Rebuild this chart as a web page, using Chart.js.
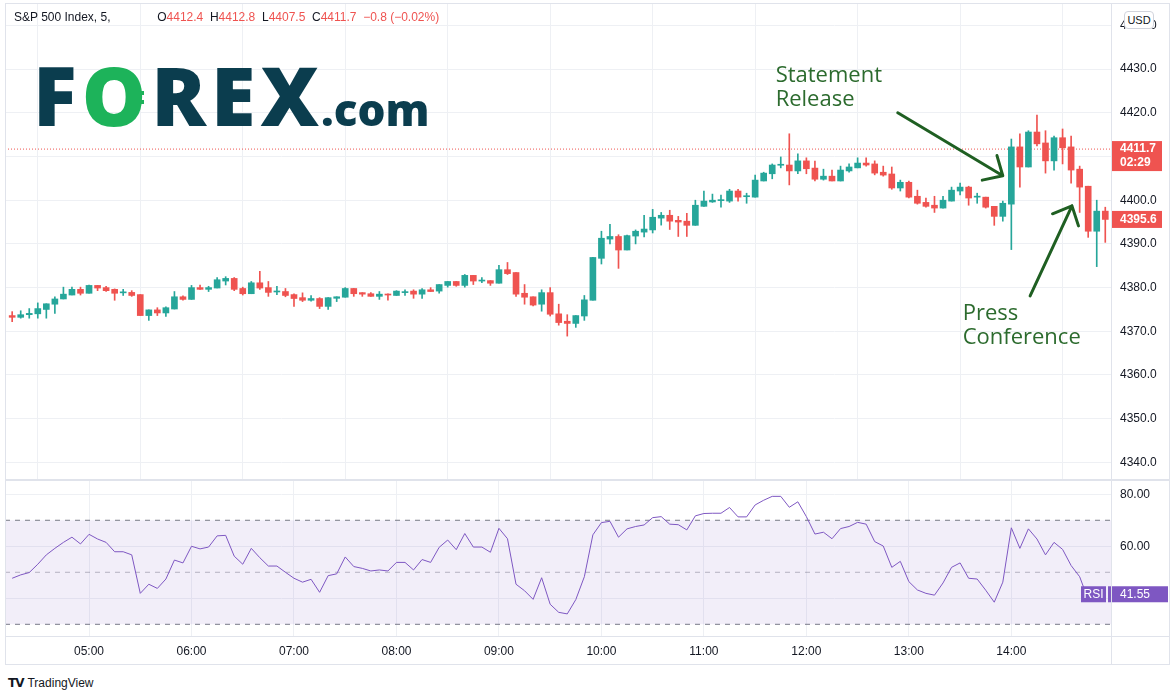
<!DOCTYPE html>
<html>
<head>
<meta charset="utf-8">
<script src="https://cdn.jsdelivr.net/npm/chart.js@4.4.1/dist/chart.umd.min.js"></script>
<style>
  body { margin: 0; background: #fff; }
  #wrap { position: relative; width: 1176px; height: 700px; overflow: hidden; font-family: "Liberation Sans", Arial, sans-serif; color: #131722; }
  canvas { position: absolute; left: 0; }
  .ln { position: absolute; background: #e0e3eb; }
  #hdr { position: absolute; left: 14px; top: 10px; font-size: 12px; white-space: pre; }
  #hdr .r { color: #ef5350; }
  #logo { position: absolute; left: 33px; top: 39px; font-family: "Open Sans", sans-serif; font-weight: 800; font-size: 81px; color: #0b3d4e; letter-spacing: 5px; white-space: nowrap; }
  #logo .g { color: #1db35a; position: relative; }
  #logo .x { letter-spacing: 2px; }
  #logo .bar { position: absolute; height: 4px; width: 12px; background: #1db35a; }
  #logo .com { font-size: 44px; font-weight: 800; letter-spacing: 0; }
  #usd { position: absolute; left: 1124px; top: 11px; width: 28px; height: 16px; border: 1px solid #d1d4dc; border-radius: 4px; background: #fff; font-size: 11px; line-height: 16px; text-align: center; }
  #tv { position: absolute; left: 8px; top: 676px; font-size: 12px; white-space: nowrap; }
  #tv b { font-family: "DejaVu Sans", sans-serif; font-weight: 900; font-size: 12px; letter-spacing: -1px; margin-right: 4px; }
</style>
</head>
<body>
<div id="wrap">
  <canvas id="price" width="1176" height="480" style="top:0"></canvas>
  <canvas id="rsi" width="1176" height="186" style="top:480px"></canvas>

  <div class="ln" style="left:5px;top:3px;width:1165px;height:1px"></div>
  <div class="ln" style="left:5px;top:3px;width:1px;height:662px"></div>
  <div class="ln" style="left:1169px;top:3px;width:1px;height:662px"></div>
  <div class="ln" style="left:1111px;top:3px;width:1px;height:662px"></div>
  <div class="ln" style="left:5px;top:479px;width:1165px;height:2px"></div>
  <div class="ln" style="left:5px;top:636px;width:1165px;height:1px"></div>
  <div class="ln" style="left:5px;top:664px;width:1165px;height:1px"></div>

  <div id="hdr">S&amp;P 500 Index, 5,              O<span class="r">4412.4</span>  H<span class="r">4412.8</span>  L<span class="r">4407.5</span>  C<span class="r">4411.7</span>  <span class="r">−0.8 (−0.02%)</span></div>
  <div id="logo">F<span class="g">O<span class="bar" style="left:50px;top:52px"></span><span class="bar" style="left:50px;top:61px"></span></span>RE<span class="x">X</span><span class="com">.com</span></div>
  <div id="usd">USD</div>
  <div id="tv"><b>TV</b>TradingView</div>
</div>

<script>
// S&P 500 Index, 5 minute candles from 04:15
var startTime = '04:15';
var opens = [
  4373.6, 4373.2, 4373.8, 4374.0, 4375.0, 4376.2, 4377.4, 4378.3, 4379.6, 4378.7,
  4380.5, 4380.0, 4379.6, 4378.8, 4378.9, 4378.4, 4373.6, 4374.9, 4374.2, 4375.1,
  4377.9, 4377.3, 4380.0, 4379.6, 4379.9, 4381.5, 4382.1, 4379.8, 4378.6, 4381.1,
  4380.0, 4379.0, 4379.1, 4378.4, 4377.7, 4377.1, 4377.5, 4375.7, 4377.55, 4377.8,
  4379.8, 4378.85, 4378.6, 4378.0, 4378.4, 4378.2, 4378.85, 4379.2, 4378.5, 4379.5,
  4379.2, 4380.5, 4381.4, 4380.5, 4382.8, 4381.5, 4381.6, 4381.0, 4384.1, 4383.45,
  4378.7, 4377.9, 4376.2, 4378.85, 4374.0, 4372.3, 4371.8, 4373.5, 4377.1, 4386.7,
  4391.1, 4391.7, 4388.6, 4391.8, 4392.7, 4393.2, 4395.9, 4396.55, 4395.4, 4395.2,
  4394.25, 4398.6, 4399.6, 4399.9, 4399.8, 4402.1, 4400.8, 4400.7, 4404.4, 4406.05,
  4408.0, 4408.05, 4406.7, 4409.0, 4407.35, 4404.8, 4405.5, 4404.4, 4406.7, 4407.4,
  4408.5, 4408.3, 4406.4, 4406.0, 4402.8, 4404.1, 4400.9, 4399.5, 4398.85, 4398.2,
  4399.8, 4402.1, 4403.0, 4400.7, 4400.7, 4398.6, 4396.3, 4399.1, 4412.2, 4407.6,
  4415.6, 4413.1, 4409.0, 4414.3, 4412.2, 4407.1, 4403.2, 4392.9, 4397.5
];
var highs = [
  4374.5, 4374.7, 4375.2, 4376.5, 4376.3, 4377.9, 4380.1, 4380.1, 4380.1, 4380.6,
  4380.5, 4380.3, 4379.7, 4379.6, 4379.3, 4378.4, 4374.9, 4375.4, 4375.6, 4379.1,
  4378.1, 4380.5, 4380.6, 4380.3, 4382.3, 4382.5, 4382.3, 4380.1, 4381.4, 4383.7,
  4381.4, 4380.3, 4379.8, 4378.6, 4378.8, 4378.2, 4377.7, 4377.7, 4377.9, 4380.0,
  4379.8, 4378.85, 4378.85, 4379.1, 4378.6, 4379.3, 4379.5, 4379.5, 4379.8, 4380.0,
  4380.7, 4381.4, 4381.4, 4383.0, 4382.8, 4382.3, 4381.6, 4385.1, 4385.75, 4383.45,
  4380.7, 4377.9, 4379.5, 4380.0, 4376.2, 4373.8, 4373.6, 4378.2, 4386.9, 4392.9,
  4394.5, 4392.1, 4392.0, 4393.2, 4396.55, 4397.9, 4397.2, 4397.7, 4396.3, 4397.0,
  4400.0, 4402.1, 4401.4, 4401.2, 4402.5, 4402.5, 4401.6, 4405.75, 4406.4, 4408.3,
  4409.9, 4415.2, 4410.6, 4409.7, 4408.96, 4407.1, 4406.9, 4407.8, 4408.3, 4409.7,
  4409.7, 4409.0, 4407.8, 4407.6, 4404.6, 4404.4, 4402.3, 4400.5, 4400.9, 4400.9,
  4403.0, 4403.9, 4403.2, 4401.6, 4400.7, 4398.6, 4399.8, 4414.0, 4415.2, 4415.9,
  4419.5, 4415.9, 4414.7, 4416.3, 4414.7, 4407.8, 4403.2, 4400.0, 4398.4
];
var lows = [
  4372.2, 4373.0, 4373.0, 4373.0, 4373.0, 4374.1, 4377.4, 4378.3, 4378.3, 4378.7,
  4379.3, 4379.1, 4377.1, 4378.2, 4378.0, 4373.6, 4372.5, 4373.6, 4373.4, 4375.1,
  4377.1, 4377.3, 4379.6, 4379.1, 4379.9, 4380.6, 4379.3, 4378.3, 4378.6, 4379.6,
  4378.0, 4378.4, 4377.9, 4375.7, 4376.8, 4376.9, 4375.2, 4375.0, 4376.8, 4377.8,
  4378.0, 4378.0, 4378.0, 4377.3, 4377.1, 4378.2, 4378.2, 4377.55, 4377.55, 4379.1,
  4378.7, 4380.1, 4380.3, 4380.1, 4380.7, 4381.1, 4380.5, 4381.0, 4383.0, 4378.0,
  4376.2, 4375.8, 4374.6, 4373.5, 4371.4, 4368.9, 4370.9, 4372.5, 4377.1, 4385.4,
  4390.0, 4384.4, 4388.6, 4390.0, 4391.6, 4392.5, 4394.3, 4393.3, 4391.7, 4391.7,
  4394.25, 4398.6, 4399.5, 4398.4, 4399.5, 4399.8, 4399.3, 4400.7, 4404.4, 4404.9,
  4407.4, 4403.5, 4406.05, 4406.05, 4404.4, 4404.6, 4404.4, 4404.4, 4406.4, 4407.4,
  4407.8, 4405.8, 4405.5, 4402.5, 4402.1, 4400.5, 4399.1, 4398.4, 4397.2, 4398.2,
  4399.8, 4401.2, 4398.85, 4399.3, 4398.2, 4394.25, 4395.2, 4388.7, 4403.0, 4407.6,
  4412.4, 4406.2, 4406.9, 4408.3, 4403.9, 4397.2, 4391.5, 4384.8, 4390.35
];
var closes = [
  4373.2, 4373.8, 4374.1, 4375.2, 4376.3, 4377.4, 4378.5, 4379.6, 4378.7, 4380.5,
  4379.9, 4379.3, 4378.7, 4378.85, 4378.2, 4373.6, 4374.9, 4374.2, 4375.4, 4377.9,
  4377.3, 4380.0, 4379.6, 4380.0, 4381.8, 4382.1, 4379.6, 4378.6, 4381.1, 4379.9,
  4378.9, 4379.1, 4378.2, 4377.5, 4377.1, 4377.5, 4375.7, 4377.7, 4377.9, 4379.8,
  4378.6, 4378.5, 4378.0, 4378.5, 4378.3, 4379.2, 4378.9, 4378.5, 4379.5, 4379.1,
  4380.7, 4381.4, 4380.5, 4382.8, 4381.5, 4381.55, 4381.0, 4384.1, 4383.2, 4378.5,
  4377.8, 4376.0, 4378.85, 4373.9, 4372.0, 4371.8, 4373.6, 4377.2, 4386.9, 4391.3,
  4391.7, 4388.6, 4391.9, 4392.9, 4393.4, 4396.1, 4396.55, 4395.2, 4395.0, 4394.25,
  4398.85, 4399.8, 4400.0, 4400.0, 4402.1, 4400.7, 4400.9, 4404.6, 4406.2, 4408.05,
  4408.1, 4406.7, 4409.0, 4407.2, 4404.8, 4405.5, 4404.4, 4406.9, 4407.6, 4408.5,
  4408.05, 4406.2, 4405.75, 4402.8, 4404.1, 4400.7, 4399.3, 4398.6, 4398.2, 4400.0,
  4402.3, 4403.0, 4400.5, 4400.8, 4398.4, 4396.3, 4399.3, 4412.2, 4407.6, 4415.6,
  4412.9, 4409.0, 4414.3, 4412.0, 4406.9, 4403.0, 4392.9, 4397.5, 4395.6
];
var rsiValues = [
  47.7, 49.0, 49.9, 53.1, 56.7, 59.2, 61.5, 63.5, 60.9, 64.6,
  62.8, 61.5, 57.9, 57.9, 56.7, 41.9, 45.4, 43.8, 47.4, 54.7,
  53.6, 60.0, 59.0, 59.7, 64.0, 64.2, 56.2, 53.1, 59.2, 55.6,
  52.4, 52.4, 50.0, 47.7, 46.2, 47.3, 42.3, 48.7, 49.4, 55.9,
  52.2, 51.5, 50.5, 50.9, 50.5, 53.8, 53.8, 50.9, 54.9, 53.8,
  59.6, 62.4, 58.7, 64.9, 59.7, 59.7, 57.7, 66.9, 62.9, 45.4,
  42.9, 39.6, 47.9, 37.7, 34.6, 34.0, 39.5, 48.3, 64.4, 69.1,
  69.6, 63.5, 66.7, 67.6, 68.2, 71.0, 71.4, 68.5, 68.3, 66.3,
  71.7, 72.6, 72.7, 72.7, 74.9, 71.3, 71.3, 75.9, 77.7, 79.2,
  79.2, 75.0, 77.1, 71.4, 64.7, 65.4, 62.9, 66.8, 67.6, 69.2,
  68.5, 61.8, 60.1, 51.9, 54.2, 46.4, 43.2, 41.9, 41.2, 45.9,
  51.9, 53.6, 47.7, 47.4, 43.1, 38.5, 46.2, 67.1, 59.2, 66.7,
  62.8, 56.7, 61.5, 58.8, 52.6, 48.3, 39.5, 44.0, 41.55
];
var rsiBands = [70, 50, 30];
var hourLabels = ['05:00', '06:00', '07:00', '08:00', '09:00', '10:00', '11:00', '12:00', '13:00', '14:00'];
var lastPrice = 4411.7;
var countdown = '02:29';
var priceTicks = [4340, 4350, 4360, 4370, 4380, 4390, 4400, 4410, 4420, 4430, 4440];
var rsiTicks = [40, 60, 80];

var notes = [
  { lines: ['Statement', 'Release'], x: 89.4, y: [4428.5, 4423.0] },
  { lines: ['Press', 'Conference'], x: 111.3, y: [4374.0, 4368.5] }
];
var arrows = [
  { from: [103.7, 4420.0], to: [116.0, 4405.6] },
  { from: [119.2, 4378.1], to: [124.1, 4398.7] }
];

var UP = '#26a69a', DOWN = '#ef5350', GRID = '#eef0f4', RSI_C = '#7e57c2';
var FONT = '"Liberation Sans", Arial, sans-serif';
var xMin = -0.84, xMax = 128.67;

function pad(n) { return (n < 10 ? '0' : '') + n; }
var t0 = parseInt(startTime.split(':')[0]) * 60 + parseInt(startTime.split(':')[1]);
var times = closes.map(function (c, i) {
  var m = t0 + 5 * i;
  return pad(Math.floor(m / 60)) + ':' + pad(m % 60);
});
var hourIdx = hourLabels.map(function (l) { return times.indexOf(l); });
var candleColors = closes.map(function (c, i) { return c >= opens[i] ? UP : DOWN; });

function noPad(s) { s.paddingTop = 0; s.paddingBottom = 0; s.paddingLeft = 0; s.paddingRight = 0; }

var xScaleBase = {
  type: 'linear', min: xMin, max: xMax, offset: false,
  grid: { color: GRID, drawTicks: false },
  border: { display: false },
  afterBuildTicks: function (s) { s.ticks = hourIdx.map(function (v) { return { value: v }; }); }
};

// price pane
var priceLabels = {
  id: 'priceLabels',
  afterDraw: function (chart) {
    var ctx = chart.ctx, y = chart.scales.y, xs = chart.scales.x;
    ctx.save();
    // right axis boxes
    var p1 = y.getPixelForValue(lastPrice);
    ctx.fillStyle = DOWN;
    ctx.fillRect(1111, p1 - 8, 51, 30);
    var p2 = y.getPixelForValue(closes[closes.length - 1]);
    ctx.fillRect(1111, p2 - 8.5, 51, 17);
    ctx.fillStyle = '#fff';
    ctx.font = 'bold 12px ' + FONT;
    ctx.textBaseline = 'middle';
    ctx.fillText(lastPrice.toFixed(1), 1120, p1);
    ctx.fillText(countdown, 1120, p1 + 14);
    ctx.fillText(closes[closes.length - 1].toFixed(1), 1120, p2);

    // annotations
    var ink = '#1f5f22';
    ctx.fillStyle = '#2c6b2e';
    ctx.font = '22px "Open Sans", sans-serif';
    ctx.textBaseline = 'middle';
    notes.forEach(function (n) {
      n.lines.forEach(function (t, k) {
        ctx.fillText(t, xs.getPixelForValue(n.x), y.getPixelForValue(n.y[k]));
      });
    });
    ctx.strokeStyle = ink;
    ctx.lineWidth = 3;
    ctx.lineCap = 'round';
    arrows.forEach(function (a) {
      var x1 = xs.getPixelForValue(a.from[0]), y1 = y.getPixelForValue(a.from[1]);
      var x2 = xs.getPixelForValue(a.to[0]), y2 = y.getPixelForValue(a.to[1]);
      var ang = Math.atan2(y2 - y1, x2 - x1);
      ctx.beginPath();
      ctx.moveTo(x1, y1);
      ctx.lineTo(x2, y2);
      [0.75, -0.75].forEach(function (d) {
        ctx.moveTo(x2, y2);
        ctx.lineTo(x2 + 21 * Math.cos(ang + Math.PI + d), y2 + 21 * Math.sin(ang + Math.PI + d));
      });
      ctx.stroke();
    });
    ctx.restore();
  }
};

new Chart(document.getElementById('price'), {
  type: 'bar',
  data: {
    datasets: [
      {
        label: 'body', order: 0, grouped: false,
        data: closes.map(function (c, i) { return { x: i, y: [Math.min(opens[i], c), Math.max(opens[i], c)] }; }),
        backgroundColor: candleColors, barThickness: 6, minBarLength: 1, borderWidth: 0
      },
      {
        label: 'wick', order: 1, grouped: false,
        data: closes.map(function (c, i) { return { x: i, y: [lows[i], highs[i]] }; }),
        backgroundColor: candleColors, barThickness: 1, borderWidth: 0
      },
      {
        type: 'line', label: 'last', order: 2,
        data: [{ x: xMin, y: lastPrice }, { x: xMax, y: lastPrice }],
        borderColor: DOWN, borderWidth: 1, borderDash: [1, 2], pointRadius: 0
      }
    ]
  },
  options: {
    responsive: false, animation: false, devicePixelRatio: 1,
    layout: { padding: { left: 5, top: 4, bottom: 1, right: 0 } },
    plugins: { legend: { display: false }, tooltip: { enabled: false } },
    scales: {
      x: Object.assign({}, xScaleBase, {
        ticks: { display: false },
        afterFit: function (s) { s.height = 0; noPad(s); }
      }),
      y: {
        position: 'right', min: 4336.2, max: 4444.9,
        grid: { color: GRID, drawTicks: false },
        border: { display: false },
        afterBuildTicks: function (s) { s.ticks = priceTicks.map(function (v) { return { value: v }; }); },
        ticks: {
          padding: 9, color: '#131722', font: { size: 12, family: FONT },
          callback: function (v) { return v.toFixed(1); }
        },
        afterFit: function (s) { s.width = 65; noPad(s); }
      }
    }
  },
  plugins: [priceLabels]
});

// RSI pane
var rsiLabels = {
  id: 'rsiLabels',
  afterDraw: function (chart) {
    var ctx = chart.ctx, y = chart.scales.y;
    var last = rsiValues[rsiValues.length - 1];
    var py = y.getPixelForValue(last);
    ctx.save();
    ctx.fillStyle = RSI_C;
    ctx.fillRect(1081, py - 8, 25, 16);
    ctx.fillRect(1108, py - 8, 60, 16);
    ctx.fillStyle = '#fff';
    ctx.font = '12px ' + FONT;
    ctx.textBaseline = 'middle';
    ctx.textAlign = 'center';
    ctx.fillText('RSI', 1093.5, py);
    ctx.textAlign = 'left';
    ctx.fillText(last.toFixed(2), 1120, py);
    ctx.restore();
  }
};

var bandStyle = [
  { color: '#787b86', dash: [5, 5] },
  { color: 'rgba(120,123,134,0.5)', dash: [5, 5] },
  { color: '#787b86', dash: [5, 5] }
];

new Chart(document.getElementById('rsi'), {
  type: 'line',
  data: {
    datasets: [
      {
        label: 'RSI', order: 0,
        data: rsiValues.map(function (v, i) { return { x: i, y: v }; }),
        borderColor: RSI_C, borderWidth: 1, pointRadius: 0, tension: 0, fill: false
      }
    ].concat(rsiBands.map(function (b, k) {
      return {
        label: 'band' + b, order: 1,
        data: [{ x: xMin, y: b }, { x: xMax, y: b }],
        borderColor: bandStyle[k].color, borderDash: bandStyle[k].dash, borderWidth: 1, pointRadius: 0,
        fill: k === 0 ? 3 : false, backgroundColor: 'rgba(126,87,194,0.1)'
      };
    }))
  },
  options: {
    responsive: false, animation: false, devicePixelRatio: 1,
    layout: { padding: { left: 5, top: 1, bottom: 0, right: 0 } },
    plugins: { legend: { display: false }, tooltip: { enabled: false } },
    scales: {
      x: Object.assign({}, xScaleBase, {
        ticks: {
          padding: 8, color: '#131722', font: { size: 12, family: FONT }, maxRotation: 0, autoSkip: false,
          callback: function (v) { return times[v]; }
        },
        afterFit: function (s) { s.height = 30; noPad(s); }
      }),
      y: {
        position: 'right', min: 25.5, max: 85.1,
        grid: { color: GRID, drawTicks: false },
        border: { display: false },
        afterBuildTicks: function (s) { s.ticks = rsiTicks.map(function (v) { return { value: v }; }); },
        ticks: {
          padding: 9, color: '#131722', font: { size: 12, family: FONT },
          callback: function (v) { return v.toFixed(2); }
        },
        afterFit: function (s) { s.width = 65; noPad(s); }
      }
    }
  },
  plugins: [rsiLabels]
});
</script>
</body>
</html>
